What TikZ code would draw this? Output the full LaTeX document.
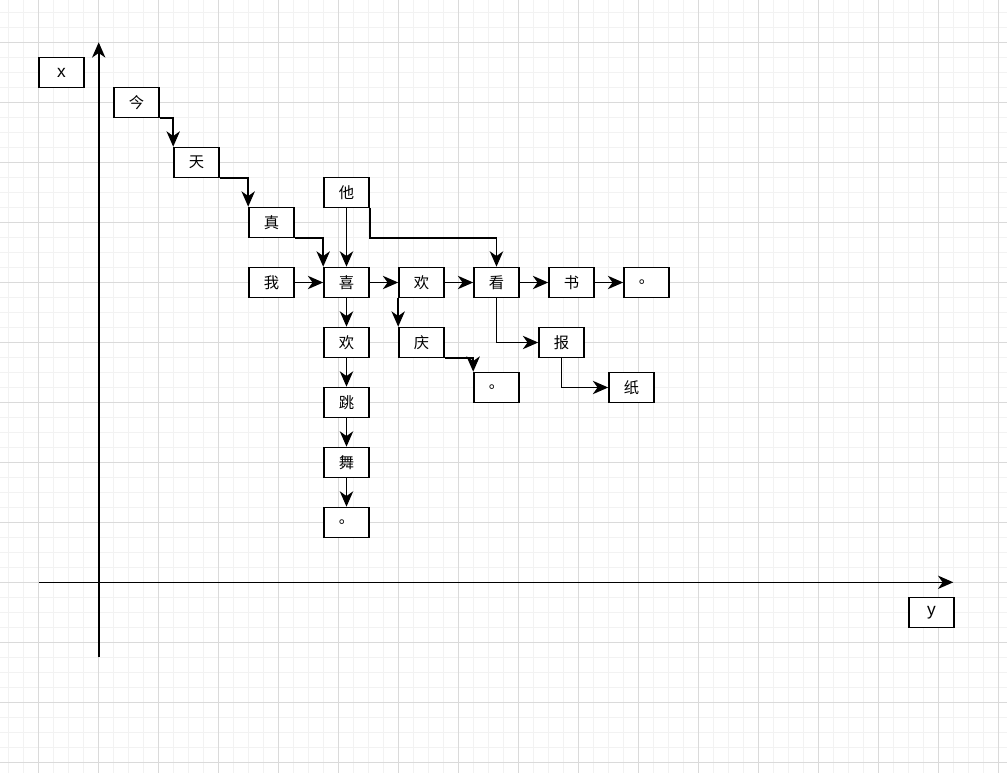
\documentclass[tikz,border=0pt]{standalone}
\usepackage{fontspec}
\setmainfont{Liberation Sans}
\newfontfamily\cjk{Noto Sans CJK SC}
\usepackage{tikz}
\usetikzlibrary{arrows.meta}
\definecolor{gridminor}{RGB}{242,242,242}
\definecolor{gridmajor}{RGB}{218,218,218}
\tikzset{
    wbox/.style={draw, fill=white, line width=1.2pt, minimum width=33.75pt, minimum height=22.5pt, inner sep=0pt, font=\cjk\fontsize{11.5}{13}\selectfont},
    lbox/.style={wbox, font=\fontsize{13}{15}\selectfont},
    link/.style={line width=1.2pt, -{Stealth[length=11.5pt,width=10pt,inset=3.5pt]}},
}
\begin{document}
\begin{tikzpicture}[x=0.75pt,y=-0.75pt]
\useasboundingbox (0,0) rectangle (1007,773);
\fill[white] (0,0) rectangle (1007,773);
\foreach \i in {0,...,66} \draw[gridminor, line width=0.75pt] (8.7+15*\i,0) -- (8.7+15*\i,773);
\foreach \j in {0,...,50} \draw[gridminor, line width=0.75pt] (0,12.3+15*\j) -- (1007,12.3+15*\j);
\foreach \i in {0,...,16} \draw[gridmajor, line width=0.75pt] (38.7+60*\i,0) -- (38.7+60*\i,773);
\foreach \j in {0,...,12} \draw[gridmajor, line width=0.75pt] (0,42.3+60*\j) -- (1007,42.3+60*\j);

% axes
\coordinate (xbot) at (98.7,657.3);
\coordinate (xtop) at (98.7,42.3);
\coordinate (yleft) at (38.7,582.3);
\coordinate (yright) at (953.3,582.3);
\draw[link] (xbot) -- (xtop);
\draw[link] (yleft) -- (yright);
\node[lbox] (xlab) at (61.5,72.5) {x};
\node[lbox] (ylab) at (931.5,612.5) {y};

\node[wbox] (jin) at (136.5,102.5) {今};
\node[wbox] (tian) at (196.5,162.5) {天};
\node[wbox] (zhen) at (271.5,222.5) {真};
\node[wbox] (ta) at (346.5,192.5) {他};
\node[wbox] (wo) at (271.5,282.5) {我};
\node[wbox] (xi) at (346.5,282.5) {喜};
\node[wbox] (huan) at (421.5,282.5) {欢};
\node[wbox] (kan) at (496.5,282.5) {看};
\node[wbox] (shu) at (571.5,282.5) {书};
\node[wbox] (juA) at (646.5,282.5) {。};
\node[wbox] (qing) at (421.5,342.5) {庆};
\node[wbox] (juB) at (496.5,387.5) {。};
\node[wbox] (bao) at (561.5,342.5) {报};
\node[wbox] (zhi) at (631.5,387.5) {纸};
\node[wbox] (huanB) at (346.5,342.5) {欢};
\node[wbox] (tiao) at (346.5,402.5) {跳};
\node[wbox] (wu) at (346.5,462.5) {舞};
\node[wbox] (juC) at (346.5,522.5) {。};

\draw[link] (jin.south east) -| (tian.north west);
\draw[link] (tian.south east) -| (zhen.north west);
\draw[link] (zhen.south east) -| (xi.north west);
\draw[link] (ta) -- (xi);
\draw[link] (ta.south east) -- ++(0,30) -| (kan.north);
\draw[link] (wo) -- (xi);
\draw[link] (xi) -- (huan);
\draw[link] (huan) -- (kan);
\draw[link] (kan) -- (shu);
\draw[link] (shu) -- (juA);
\draw[link] (huan.south west) -- (qing.north west);
\draw[link] (qing.south east) -| (juB.north west);
\draw[link] (kan.south) |- (bao.west);
\draw[link] (bao.south) |- (zhi.west);
\draw[link] (xi) -- (huanB);
\draw[link] (huanB) -- (tiao);
\draw[link] (tiao) -- (wu);
\draw[link] (wu) -- (juC);
\end{tikzpicture}
\end{document}
